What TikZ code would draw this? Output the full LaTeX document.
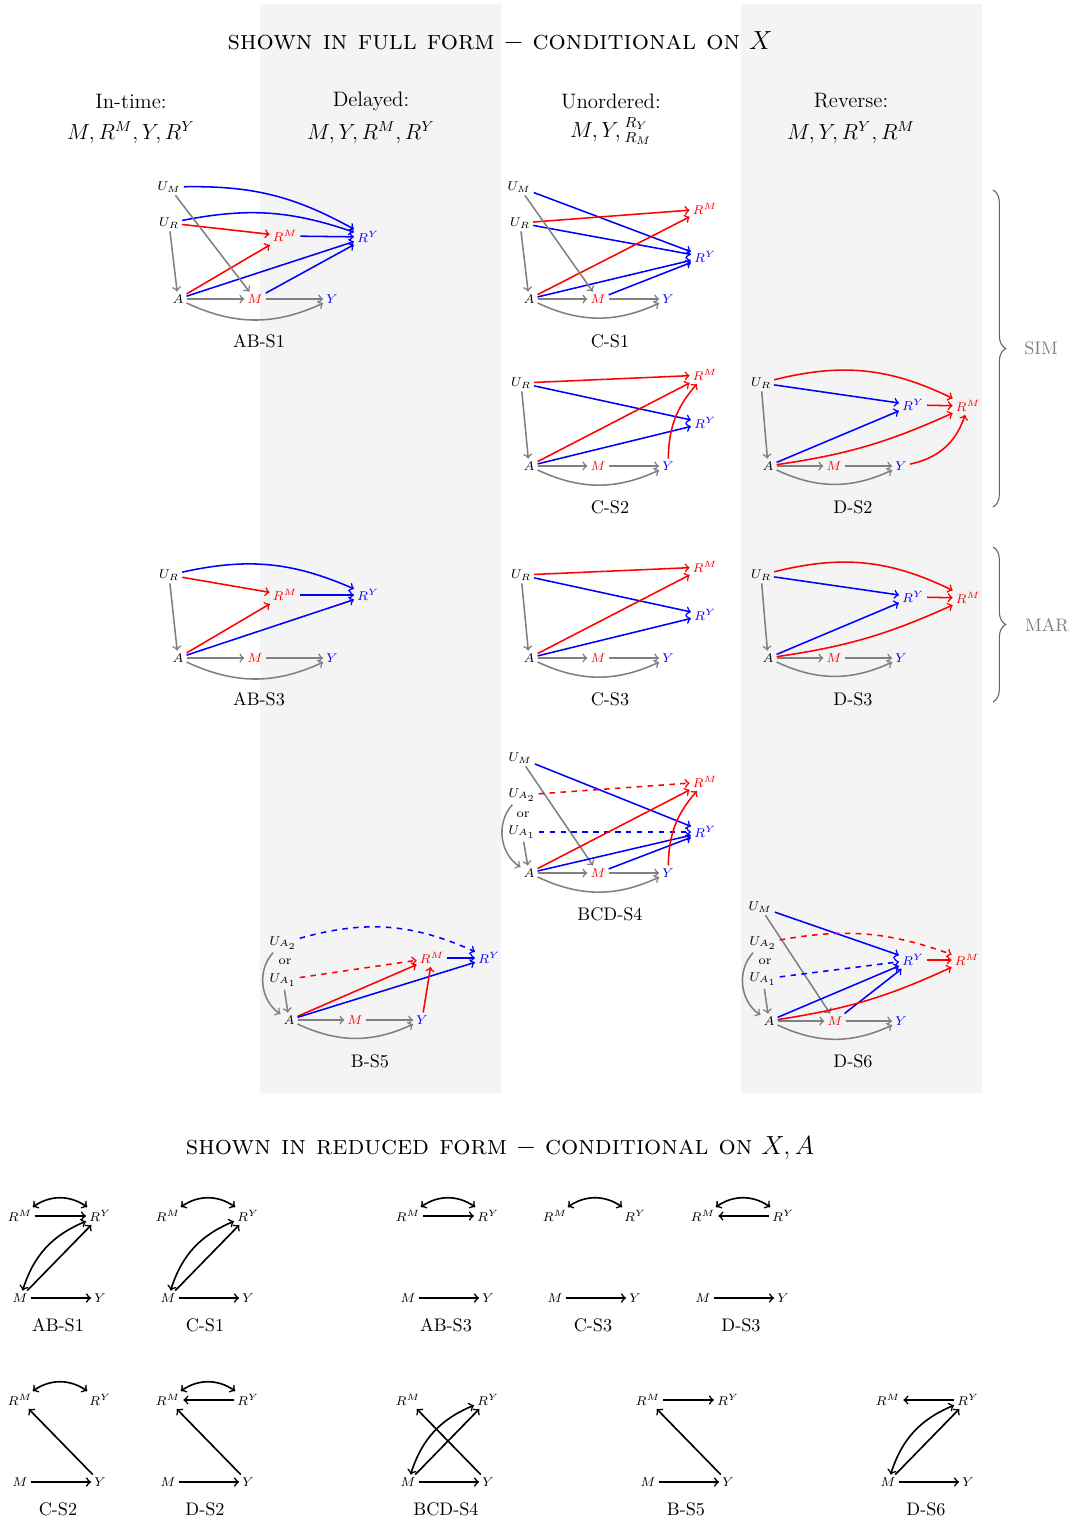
\documentclass[tikz,border=0pt]{standalone}
\usetikzlibrary{decorations.pathreplacing}
\definecolor{bgc}{RGB}{244,244,244}
\begin{document}
\begin{tikzpicture}[x=0.55pt,y=-0.55pt,
  v/.style={font=\scriptsize, inner sep=1.5pt},
  vr/.style={v,text=red},
  vb/.style={v,text=blue},
  ed/.style={->,line width=0.85pt},
  eg/.style={ed,gray},
  er/.style={ed,red},
  eb/.style={ed,blue},
  lab/.style={font=\normalsize},
  hd/.style={font=\fontsize{11.5}{14}\selectfont},
  ttl/.style={font=\fontsize{14.9}{17}\selectfont},
  rn/.style={font=\scriptsize, inner sep=1.5pt},
  re/.style={->,line width=0.9pt},
  rb/.style={<->,line width=0.9pt},
  brc/.style={decorate,decoration={brace,amplitude=7pt},gray!80!black,line width=0.6pt},
  side/.style={font=\normalsize,text=gray},
]
\useasboundingbox (0,0) rectangle (1076,1520);
\fill[bgc] (260,4) rectangle (501,1093);
\fill[bgc] (741,4) rectangle (982,1093);

\node[ttl] (t1) at (500,42) {\textsc{shown in full form} $-$ \textsc{conditional on} $X$};
\node[ttl] (t2) at (500,1148) {\textsc{shown in reduced form} $-$ \textsc{conditional on} $X, A$};

\node[hd] (h1a) at (131,101) {In-time:};
\node[hd] (h1b) at (131,133) {$M, R^M, Y, R^Y$};
\node[hd] (h2a) at (371,101) {Delayed:};
\node[hd] (h2b) at (371,133) {$M, Y, R^M, R^Y$};
\node[hd] (h3a) at (611,101) {Unordered:};
\node[hd] (h3b) at (611,131) {$M, Y, {}^{R_Y}_{R_M}$};
\node[hd] (h4a) at (851,101) {Reverse:};
\node[hd] (h4b) at (851,133) {$M, Y, R^Y, R^M$};

% braces
\draw[brc] (993,190) -- (993,507);
\node[side] (sim) at (1041,348) {SIM};
\draw[brc] (993,547) -- (993,702);
\node[side] (mar) at (1047,625) {MAR};

% ---------- AB-S1
\node[v] (a1UM) at (169,187) {$U_M$};
\node[v] (a1UR) at (169,223) {$U_R$};
\node[vr] (a1RM) at (285,236) {$R^M$};
\node[vb] (a1RY) at (368,237) {$R^Y$};
\node[v] (a1A) at (178,299) {$A$};
\node[vr] (a1M) at (255,299) {$M$};
\node[vb] (a1Y) at (332,299) {$Y$};
\node[lab] (a1L) at (259,341) {AB-S1};
\draw[eb] (a1UM) to[bend left=15] (a1RY);
\draw[eb] (a1UR) to[bend left=15] (a1RY);
\draw[er] (a1UR) -- (a1RM);
\draw[eb] (a1RM) -- (a1RY);
\draw[er] (a1A) -- (a1RM);
\draw[eb] (a1A) -- (a1RY);
\draw[eb] (a1M) -- (a1RY);
\draw[eg] (a1UM) -- (a1M);
\draw[eg] (a1UR) -- (a1A);
\draw[eg] (a1A) -- (a1M);
\draw[eg] (a1M) -- (a1Y);
\draw[eg] (a1A) to[bend right=25] (a1Y);

% ---------- AB-S3
\node[v] (a3UR) at (169,575) {$U_R$};
\node[vr] (a3RM) at (285,595) {$R^M$};
\node[vb] (a3RY) at (368,595) {$R^Y$};
\node[v] (a3A) at (178,658) {$A$};
\node[vr] (a3M) at (255,658) {$M$};
\node[vb] (a3Y) at (332,658) {$Y$};
\node[lab] (a3L) at (259,699) {AB-S3};
\draw[eb] (a3UR) to[bend left=18] (a3RY);
\draw[er] (a3UR) -- (a3RM);
\draw[eb] (a3RM) -- (a3RY);
\draw[er] (a3A) -- (a3RM);
\draw[eb] (a3A) -- (a3RY);
\draw[eg] (a3UR) -- (a3A);
\draw[eg] (a3A) -- (a3M);
\draw[eg] (a3M) -- (a3Y);
\draw[eg] (a3A) to[bend right=25] (a3Y);

% ---------- C-S1
\node[v] (c1UM) at (519,187) {$U_M$};
\node[v] (c1UR) at (520,223) {$U_R$};
\node[vr] (c1RM) at (705,209) {$R^M$};
\node[vb] (c1RY) at (705,257) {$R^Y$};
\node[v] (c1A) at (529,299) {$A$};
\node[vr] (c1M) at (598,299) {$M$};
\node[vb] (c1Y) at (668,299) {$Y$};
\node[lab] (c1L) at (610,341) {C-S1};
\draw[eb] (c1UM) -- (c1RY);
\draw[er] (c1UR) -- (c1RM);
\draw[eb] (c1UR) -- (c1RY);
\draw[er] (c1A) -- (c1RM);
\draw[eb] (c1A) -- (c1RY);
\draw[eb] (c1M) -- (c1RY);
\draw[eg] (c1UM) -- (c1M);
\draw[eg] (c1UR) -- (c1A);
\draw[eg] (c1A) -- (c1M);
\draw[eg] (c1M) -- (c1Y);
\draw[eg] (c1A) to[bend right=25] (c1Y);

% ---------- C-S2
\node[v] (c2UR) at (521,383) {$U_R$};
\node[vr] (c2RM) at (705,375) {$R^M$};
\node[vb] (c2RY) at (705,423) {$R^Y$};
\node[v] (c2A) at (529,466) {$A$};
\node[vr] (c2M) at (598,466) {$M$};
\node[vb] (c2Y) at (668,466) {$Y$};
\node[lab] (c2L) at (610,507) {C-S2};
\draw[er] (c2UR) -- (c2RM);
\draw[eb] (c2UR) -- (c2RY);
\draw[er] (c2A) -- (c2RM);
\draw[eb] (c2A) -- (c2RY);
\draw[er] (c2Y) to[bend left=20] (c2RM);
\draw[eg] (c2UR) -- (c2A);
\draw[eg] (c2A) -- (c2M);
\draw[eg] (c2M) -- (c2Y);
\draw[eg] (c2A) to[bend right=25] (c2Y);

% ---------- C-S3
\node[v] (c3UR) at (521,575) {$U_R$};
\node[vr] (c3RM) at (705,567) {$R^M$};
\node[vb] (c3RY) at (705,615) {$R^Y$};
\node[v] (c3A) at (529,658) {$A$};
\node[vr] (c3M) at (598,658) {$M$};
\node[vb] (c3Y) at (668,658) {$Y$};
\node[lab] (c3L) at (610,699) {C-S3};
\draw[er] (c3UR) -- (c3RM);
\draw[eb] (c3UR) -- (c3RY);
\draw[er] (c3A) -- (c3RM);
\draw[eb] (c3A) -- (c3RY);
\draw[eg] (c3UR) -- (c3A);
\draw[eg] (c3A) -- (c3M);
\draw[eg] (c3M) -- (c3Y);
\draw[eg] (c3A) to[bend right=25] (c3Y);

% ---------- D-S2
\node[v] (d2UR) at (761,383) {$U_R$};
\node[vb] (d2RY) at (913,405) {$R^Y$};
\node[vr] (d2RM) at (968,406) {$R^M$};
\node[v] (d2A) at (768,466) {$A$};
\node[vr] (d2M) at (834,466) {$M$};
\node[vb] (d2Y) at (901,466) {$Y$};
\node[lab] (d2L) at (853,507) {D-S2};
\draw[er] (d2UR) to[bend left=20] (d2RM);
\draw[eb] (d2UR) -- (d2RY);
\draw[eb] (d2A) -- (d2RY);
\draw[er] (d2A) to[bend right=8] (d2RM);
\draw[er] (d2Y) to[bend right=30] (d2RM);
\draw[er] (d2RY) -- (d2RM);
\draw[eg] (d2UR) -- (d2A);
\draw[eg] (d2A) -- (d2M);
\draw[eg] (d2M) -- (d2Y);
\draw[eg] (d2A) to[bend right=25] (d2Y);

% ---------- D-S3
\node[v] (d3UR) at (761,575) {$U_R$};
\node[vb] (d3RY) at (913,597) {$R^Y$};
\node[vr] (d3RM) at (968,598) {$R^M$};
\node[v] (d3A) at (768,658) {$A$};
\node[vr] (d3M) at (834,658) {$M$};
\node[vb] (d3Y) at (901,658) {$Y$};
\node[lab] (d3L) at (853,699) {D-S3};
\draw[er] (d3UR) to[bend left=20] (d3RM);
\draw[eb] (d3UR) -- (d3RY);
\draw[eb] (d3A) -- (d3RY);
\draw[er] (d3A) to[bend right=8] (d3RM);
\draw[er] (d3RY) -- (d3RM);
\draw[eg] (d3UR) -- (d3A);
\draw[eg] (d3A) -- (d3M);
\draw[eg] (d3M) -- (d3Y);
\draw[eg] (d3A) to[bend right=25] (d3Y);

% ---------- BCD-S4
\node[v] (b4UM) at (520,758) {$U_M$};
\node[v] (b4UA2) at (522,795) {$U_{A_2}$};
\node[v] (b4or) at (523,815) {or};
\node[v] (b4UA1) at (522,832) {$U_{A_1}$};
\node[vr] (b4RM) at (705,782) {$R^M$};
\node[vb] (b4RY) at (705,832) {$R^Y$};
\node[v] (b4A) at (529,873) {$A$};
\node[vr] (b4M) at (598,873) {$M$};
\node[vb] (b4Y) at (668,873) {$Y$};
\node[lab] (b4L) at (610,914) {BCD-S4};
\draw[eb] (b4UM) -- (b4RY);
\draw[eg] (b4UM) -- (b4M);
\draw[er,dashed] (b4UA2) -- (b4RM);
\draw[eb,dashed] (b4UA1) -- (b4RY);
\draw[eg] (b4UA2) to[bend right=50] (b4A);
\draw[eg] (b4UA1) -- (b4A);
\draw[er] (b4A) -- (b4RM);
\draw[eb] (b4A) -- (b4RY);
\draw[eb] (b4M) -- (b4RY);
\draw[er] (b4Y) to[bend left=20] (b4RM);
\draw[eg] (b4A) -- (b4M);
\draw[eg] (b4M) -- (b4Y);
\draw[eg] (b4A) to[bend right=25] (b4Y);

% ---------- B-S5
\node[v] (b5UA2) at (283,943) {$U_{A_2}$};
\node[v] (b5or) at (285,962) {or};
\node[v] (b5UA1) at (283,980) {$U_{A_1}$};
\node[vr] (b5RM) at (432,958) {$R^M$};
\node[vb] (b5RY) at (489,958) {$R^Y$};
\node[v] (b5A) at (289,1020) {$A$};
\node[vr] (b5M) at (355,1020) {$M$};
\node[vb] (b5Y) at (422,1020) {$Y$};
\node[lab] (b5L) at (370,1061) {B-S5};
\draw[eb,dashed] (b5UA2) to[bend left=20] (b5RY);
\draw[er,dashed] (b5UA1) -- (b5RM);
\draw[eg] (b5UA2) to[bend right=50] (b5A);
\draw[eg] (b5UA1) -- (b5A);
\draw[er] (b5A) -- (b5RM);
\draw[eb] (b5A) -- (b5RY);
\draw[eb] (b5RM) -- (b5RY);
\draw[er] (b5Y) -- (b5RM);
\draw[eg] (b5A) -- (b5M);
\draw[eg] (b5M) -- (b5Y);
\draw[eg] (b5A) to[bend right=25] (b5Y);

% ---------- D-S6
\node[v] (d6UM) at (760,907) {$U_M$};
\node[v] (d6UA2) at (763,943) {$U_{A_2}$};
\node[v] (d6or) at (765,962) {or};
\node[v] (d6UA1) at (763,979) {$U_{A_1}$};
\node[vb] (d6RY) at (913,960) {$R^Y$};
\node[vr] (d6RM) at (967,960) {$R^M$};
\node[v] (d6A) at (769,1021) {$A$};
\node[vr] (d6M) at (835,1021) {$M$};
\node[vb] (d6Y) at (901,1021) {$Y$};
\node[lab] (d6L) at (853,1061) {D-S6};
\draw[eb] (d6UM) -- (d6RY);
\draw[eg] (d6UM) -- (d6M);
\draw[er,dashed] (d6UA2) to[bend left=15] (d6RM);
\draw[eb,dashed] (d6UA1) -- (d6RY);
\draw[eb] (d6A) -- (d6RY);
\draw[eb] (d6M) -- (d6RY);
\draw[er] (d6A) to[bend right=8] (d6RM);
\draw[er] (d6RY) -- (d6RM);
\draw[eg] (d6UA2) to[bend right=50] (d6A);
\draw[eg] (d6UA1) -- (d6A);
\draw[eg] (d6A) -- (d6M);
\draw[eg] (d6M) -- (d6Y);
\draw[eg] (d6A) to[bend right=25] (d6Y);

% ================= reduced forms
% AB-S1
\node[rn] (r1RM) at (20,1216) {$R^M$};
\node[rn] (r1RY) at (100,1216) {$R^Y$};
\node[rn] (r1M) at (20,1298) {$M$};
\node[rn] (r1Y) at (100,1298) {$Y$};
\node[lab] (r1L) at (58,1325) {AB-S1};
\draw[re] (r1M) -- (r1Y);
\draw[re] (r1RM) -- (r1RY);
\draw[rb] (r1RM) to[bend left=35] (r1RY);
\draw[re] (r1M) -- (r1RY);
\draw[rb] (r1M) to[bend left=25] (r1RY);
% C-S1
\node[rn] (r2RM) at (168,1216) {$R^M$};
\node[rn] (r2RY) at (248,1216) {$R^Y$};
\node[rn] (r2M) at (168,1298) {$M$};
\node[rn] (r2Y) at (248,1298) {$Y$};
\node[lab] (r2L) at (205,1325) {C-S1};
\draw[re] (r2M) -- (r2Y);
\draw[rb] (r2RM) to[bend left=35] (r2RY);
\draw[re] (r2M) -- (r2RY);
\draw[rb] (r2M) to[bend left=25] (r2RY);
% AB-S3
\node[rn] (r3RM) at (408,1216) {$R^M$};
\node[rn] (r3RY) at (488,1216) {$R^Y$};
\node[rn] (r3M) at (408,1298) {$M$};
\node[rn] (r3Y) at (488,1298) {$Y$};
\node[lab] (r3L) at (446,1325) {AB-S3};
\draw[re] (r3M) -- (r3Y);
\draw[re] (r3RM) -- (r3RY);
\draw[rb] (r3RM) to[bend left=35] (r3RY);
% C-S3
\node[rn] (r4RM) at (555,1216) {$R^M$};
\node[rn] (r4RY) at (635,1216) {$R^Y$};
\node[rn] (r4M) at (555,1298) {$M$};
\node[rn] (r4Y) at (635,1298) {$Y$};
\node[lab] (r4L) at (593,1325) {C-S3};
\draw[re] (r4M) -- (r4Y);
\draw[rb] (r4RM) to[bend left=35] (r4RY);
% D-S3
\node[rn] (r5RM) at (703,1216) {$R^M$};
\node[rn] (r5RY) at (783,1216) {$R^Y$};
\node[rn] (r5M) at (703,1298) {$M$};
\node[rn] (r5Y) at (783,1298) {$Y$};
\node[lab] (r5L) at (741,1325) {D-S3};
\draw[re] (r5M) -- (r5Y);
\draw[re] (r5RY) -- (r5RM);
\draw[rb] (r5RM) to[bend left=35] (r5RY);
% C-S2
\node[rn] (r6RM) at (20,1400) {$R^M$};
\node[rn] (r6RY) at (100,1400) {$R^Y$};
\node[rn] (r6M) at (20,1482) {$M$};
\node[rn] (r6Y) at (100,1482) {$Y$};
\node[lab] (r6L) at (58,1509) {C-S2};
\draw[re] (r6M) -- (r6Y);
\draw[rb] (r6RM) to[bend left=35] (r6RY);
\draw[re] (r6Y) -- (r6RM);
% D-S2
\node[rn] (r7RM) at (168,1400) {$R^M$};
\node[rn] (r7RY) at (248,1400) {$R^Y$};
\node[rn] (r7M) at (168,1482) {$M$};
\node[rn] (r7Y) at (248,1482) {$Y$};
\node[lab] (r7L) at (205,1509) {D-S2};
\draw[re] (r7M) -- (r7Y);
\draw[rb] (r7RM) to[bend left=35] (r7RY);
\draw[re] (r7RY) -- (r7RM);
\draw[re] (r7Y) -- (r7RM);
% BCD-S4
\node[rn] (r8RM) at (408,1400) {$R^M$};
\node[rn] (r8RY) at (488,1400) {$R^Y$};
\node[rn] (r8M) at (408,1482) {$M$};
\node[rn] (r8Y) at (488,1482) {$Y$};
\node[lab] (r8L) at (446,1509) {BCD-S4};
\draw[re] (r8M) -- (r8Y);
\draw[re] (r8Y) -- (r8RM);
\draw[re] (r8M) -- (r8RY);
\draw[rb] (r8M) to[bend left=25] (r8RY);
% B-S5
\node[rn] (r9RM) at (648,1400) {$R^M$};
\node[rn] (r9RY) at (728,1400) {$R^Y$};
\node[rn] (r9M) at (648,1482) {$M$};
\node[rn] (r9Y) at (728,1482) {$Y$};
\node[lab] (r9L) at (686,1509) {B-S5};
\draw[re] (r9M) -- (r9Y);
\draw[re] (r9RM) -- (r9RY);
\draw[re] (r9Y) -- (r9RM);
% D-S6
\node[rn] (r10RM) at (888,1400) {$R^M$};
\node[rn] (r10RY) at (968,1400) {$R^Y$};
\node[rn] (r10M) at (888,1482) {$M$};
\node[rn] (r10Y) at (968,1482) {$Y$};
\node[lab] (r10L) at (926,1509) {D-S6};
\draw[re] (r10M) -- (r10Y);
\draw[re] (r10RY) -- (r10RM);
\draw[re] (r10M) -- (r10RY);
\draw[rb] (r10M) to[bend left=25] (r10RY);
\end{tikzpicture}
\end{document}
